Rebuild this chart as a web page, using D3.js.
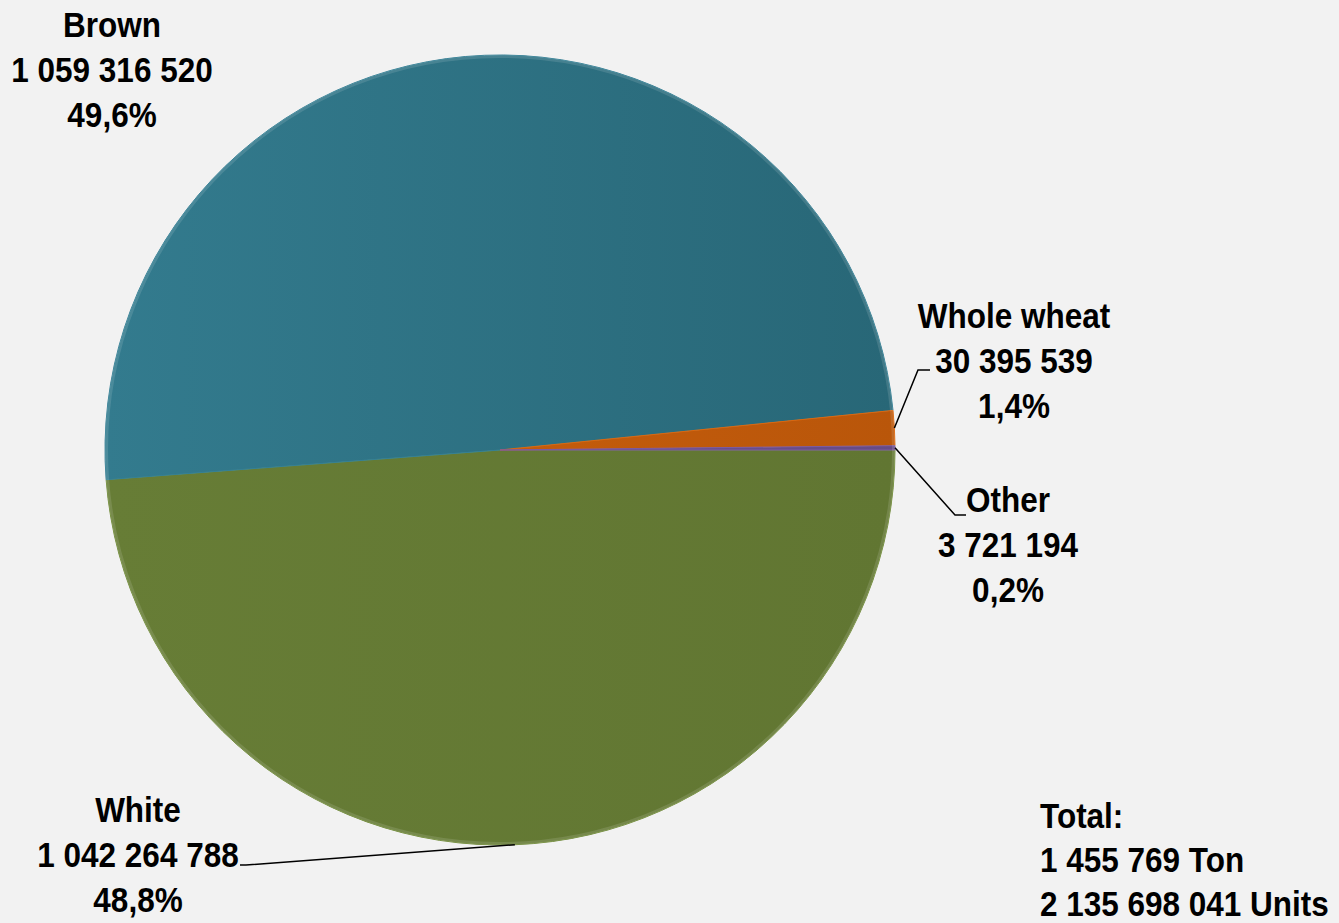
<!DOCTYPE html>
<html>
<head>
<meta charset="utf-8">
<script src="https://cdn.jsdelivr.net/npm/d3@7"></script>
<style>
  html, body { margin: 0; padding: 0; background: #f2f2f2; }
  svg { display: block; }
  text { font-family: "Liberation Sans", Arial, sans-serif; font-weight: bold; fill: #000; }
</style>
</head>
<body>
<svg id="chart" width="1339" height="923"></svg>
<script>
const categories = ["White", "Brown", "Whole wheat", "Other"];
const values = [1042264788, 1059316520, 30395539, 3721194];
const percentLabels = ["48,8%", "49,6%", "1,4%", "0,2%"];
const valueLabels = ["1 042 264 788", "1 059 316 520", "30 395 539", "3 721 194"];
const totalLines = ["Total:", "1 455 769 Ton", "2 135 698 041 Units"];
const colors = ["#647a34", "#2e6f81", "#c0590b", "#6b4f8c"];

const W = 1339, H = 923;
const cx = 500, cy = 450, R = 395;
const svg = d3.select("#chart");
svg.append("rect").attr("width", W).attr("height", H).attr("fill", "#f2f2f2");

const defs = svg.append("defs");
const grads = [
  ["#677d36", "#617632"],
  ["#337b8e", "#286777"],
  ["#c45c0c", "#b9560a"],
  ["#6e5290", "#664b86"]
];
grads.forEach((g, i) => {
  const lg = defs.append("linearGradient").attr("id", "g" + i)
    .attr("x1", "0%").attr("x2", "100%").attr("y1", "0%").attr("y2", "0%");
  lg.append("stop").attr("offset", "0%").attr("stop-color", g[0]);
  lg.append("stop").attr("offset", "100%").attr("stop-color", g[1]);
});

const data = categories.map((c, i) => ({ name: c, value: values[i], i }));
const pie = d3.pie().sort(null).value(d => d.value)
  .startAngle(Math.PI / 2).endAngle(Math.PI / 2 + 2 * Math.PI);
const arcs = pie(data);
const arc = d3.arc().innerRadius(0).outerRadius(R);

const g = svg.append("g").attr("transform", `translate(${cx},${cy})`);
g.selectAll("path.slice").data(arcs).enter().append("path")
  .attr("class", "slice")
  .attr("d", arc)
  .attr("fill", d => `url(#g${d.data.i})`)
  .attr("stroke", d => d3.color(colors[d.data.i]).brighter(0.4))
  .attr("stroke-width", 1);

// soft bevel on outer edge
g.append("circle").attr("r", R - 1.5).attr("fill", "none")
  .attr("stroke", "rgba(255,255,255,0.12)").attr("stroke-width", 3);

const lineH = 45;
const sx = 0.9;
const labelPos = {
  "Brown": { x: 112, y: 37, leader: null },
  "Whole wheat": { x: 1014, y: 328, leader: [[918, 370], [930, 370]] },
  "Other": { x: 1008, y: 512, leader: [[955, 515], [966, 515]] },
  "White": { x: 138, y: 822, leader: [[246, 865], [240, 865]] }
};

arcs.forEach(a => {
  const name = a.data.name;
  const p = labelPos[name];
  if (p.leader) {
    const mid = (a.startAngle + a.endAngle) / 2;
    const px = cx + R * Math.sin(mid), py = cy - R * Math.cos(mid);
    const pts = [[px, py]].concat(p.leader);
    svg.append("path").attr("d", d3.line()(pts))
      .attr("fill", "none").attr("stroke", "#000").attr("stroke-width", 1.5);
  }
  const lines = [name, valueLabels[a.data.i], percentLabels[a.data.i]];
  const t = svg.append("text").attr("text-anchor", "middle").attr("font-size", 35)
    .attr("transform", `translate(${p.x},${p.y}) scale(${sx},1)`);
  lines.forEach((l, k) => t.append("tspan").attr("x", 0).attr("y", k * lineH).text(l));
});

const tt = svg.append("text").attr("text-anchor", "start").attr("font-size", 35)
  .attr("transform", `translate(1040,828) scale(${sx},1)`);
totalLines.forEach((l, k) => tt.append("tspan").attr("x", 0).attr("y", k * 44).text(l));
</script>
</body>
</html>
